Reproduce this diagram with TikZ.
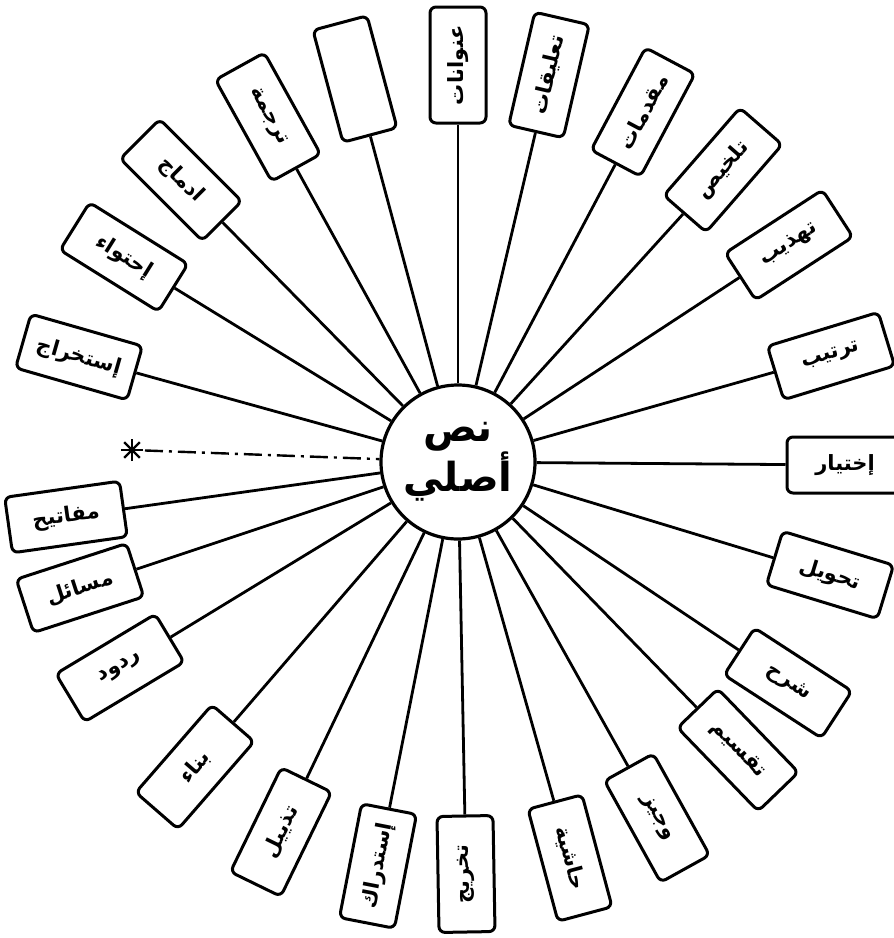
\documentclass[tikz,border=0pt]{standalone}
\usepackage{fontspec}
\newfontfamily\arabicfont[Script=Arabic]{DejaVu Sans}
\TeXXeTstate=1
\begin{document}
\begin{tikzpicture}[x=1pt,y=-1pt,
  lbl/.style={draw, line width=3pt, rounded corners=6pt, minimum width=116pt, minimum height=56pt, inner sep=2pt, font=\arabicfont\bfseries\fontsize{21}{23}\selectfont},
  spoke/.style={line width=2.8pt},
  hubstyle/.style={circle, draw, line width=3.2pt, minimum size=154pt, inner sep=0pt, align=center, font=\arabicfont\bfseries\fontsize{40}{50}\selectfont},
  dashdot/.style={line width=2.4pt, dash pattern=on 18pt off 6pt on 3pt off 6pt}]
\useasboundingbox (0,0) rectangle (894,938);
\node[hubstyle] (hub) at (458,462) {\beginR نص\endR\\\beginR أصلي\endR};
\node[lbl, rotate=90]  (b1)  at (458,65)  {\beginR عنوانات\endR};
\node[lbl, rotate=77]  (b2)  at (549,75)  {\beginR تعليقات\endR};
\node[lbl, rotate=62]  (b3)  at (643,112) {\beginR مقدمات\endR};
\node[lbl, rotate=49]  (b4)  at (723,170) {\beginR تلخيص\endR};
\node[lbl, rotate=33]  (b5)  at (789,245) {\beginR تهذيب\endR};
\node[lbl, rotate=17]  (b6)  at (831,356) {\beginR ترتيب\endR};
\node[lbl, rotate=0]   (b7)  at (845,465) {\beginR إختيار\endR};
\node[lbl, rotate=-17] (b8)  at (830,575) {\beginR تحويل\endR};
\node[lbl, rotate=-33] (b9)  at (788,683) {\beginR شرح\endR};
\node[lbl, rotate=-46] (b10) at (738,750) {\beginR تقسيم\endR};
\node[lbl, rotate=-61] (b11) at (657,818) {\beginR وجيز\endR};
\node[lbl, rotate=-75] (b12) at (570,858) {\beginR حاشية\endR};
\node[lbl, rotate=91]  (b13) at (466,874) {\beginR تخريج\endR};
\node[lbl, rotate=79]  (b14) at (378,866) {\beginR إستدراك\endR};
\node[lbl, rotate=64]  (b15) at (281,832) {\beginR تذييل\endR};
\node[lbl, rotate=49]  (b16) at (195,767) {\beginR بناء\endR};
\node[lbl, rotate=31]  (b17) at (120,668) {\beginR ردود\endR};
\node[lbl, rotate=18]  (b18) at (80,588)  {\beginR مسائل\endR};
\node[lbl, rotate=8]   (b19) at (66,517)  {\beginR مفاتيح\endR};
\node[lbl, rotate=-16] (b21) at (79,357)  {\beginR إستخراج\endR};
\node[lbl, rotate=-32] (b22) at (124,257) {\beginR إحتواء\endR};
\node[lbl, rotate=-45] (b23) at (181,180) {\beginR ادماج\endR};
\node[lbl, rotate=-61] (b24) at (268,117) {\beginR ترجمة\endR};
\node[lbl, rotate=-75] (b25) at (355,79)  {};
\foreach \n in {b1,b2,b3,b4,b5,b6,b7,b8,b9,b10,b11,b12,b13,b14,b15,b16,b17,b18,b19,b21,b22,b23,b24,b25}
  \draw[spoke] (hub) -- (\n);
% star
\coordinate (star) at (132,450);
\foreach \a in {0,45,90,135}
  \draw[line width=2.4pt] (star) ++(\a:11) -- ++(\a+180:22);
\draw[dashdot, shorten <=13pt] (star) -- (hub);
\end{tikzpicture}
\end{document}
